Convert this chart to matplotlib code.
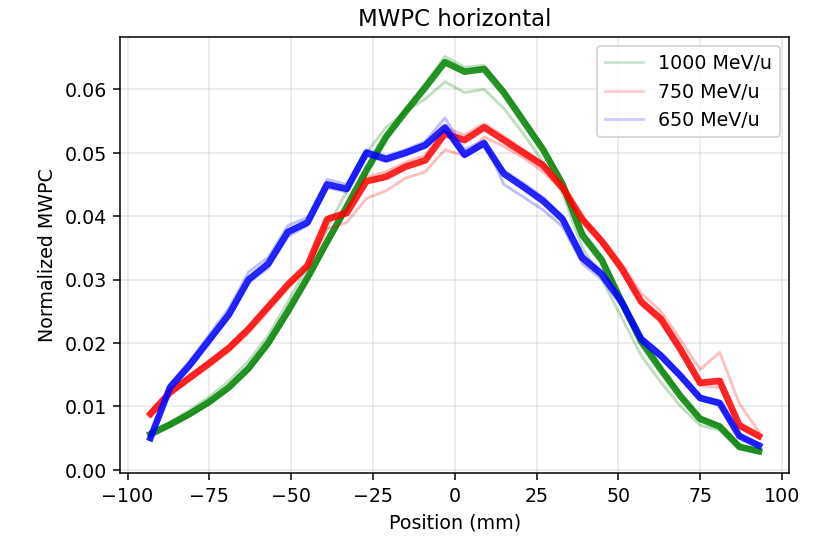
import numpy as np
import matplotlib.pyplot as plt

# Posições dos fios da MWPC (mm)
position = np.arange(-93, 94, 6)

# ---------- Perfis normalizados ----------
# 1000 MeV/u
green_core = [0.0056, 0.0071, 0.0088, 0.0107, 0.0130, 0.0160, 0.0200, 0.0250,
              0.0303, 0.0360, 0.0415, 0.0472, 0.0525, 0.0565, 0.0603, 0.0643,
              0.0628, 0.0632, 0.0595, 0.0550, 0.0505, 0.0450, 0.0370, 0.0330,
              0.0265, 0.0202, 0.0158, 0.0116, 0.0080, 0.0068, 0.0036, 0.0029]
green_low = [0.0060, 0.0075, 0.0094, 0.0115, 0.0140, 0.0172, 0.0212, 0.0265,
             0.0320, 0.0380, 0.0440, 0.0500, 0.0540, 0.0565, 0.0585, 0.0612,
             0.0595, 0.0600, 0.0570, 0.0530, 0.0485, 0.0435, 0.0350, 0.0300,
             0.0240, 0.0180, 0.0138, 0.0100, 0.0070, 0.0062, 0.0033, 0.0026]
green_alt = [0.0054, 0.0069, 0.0085, 0.0104, 0.0127, 0.0156, 0.0195, 0.0244,
             0.0297, 0.0354, 0.0410, 0.0468, 0.0522, 0.0568, 0.0610, 0.0652,
             0.0635, 0.0638, 0.0600, 0.0556, 0.0510, 0.0455, 0.0378, 0.0336,
             0.0270, 0.0208, 0.0162, 0.0120, 0.0084, 0.0071, 0.0038, 0.0031]

# 750 MeV/u
red_core = [0.0088, 0.0122, 0.0145, 0.0168, 0.0192, 0.0222, 0.0257, 0.0292,
            0.0322, 0.0395, 0.0405, 0.0455, 0.0462, 0.0478, 0.0488, 0.0530,
            0.0520, 0.0540, 0.0520, 0.0500, 0.0480, 0.0445, 0.0395, 0.0360,
            0.0318, 0.0265, 0.0238, 0.0190, 0.0137, 0.0140, 0.0070, 0.0053]
red_low = [0.0092, 0.0125, 0.0150, 0.0172, 0.0196, 0.0225, 0.0258, 0.0290,
           0.0318, 0.0380, 0.0390, 0.0428, 0.0440, 0.0460, 0.0470, 0.0505,
           0.0495, 0.0525, 0.0510, 0.0492, 0.0470, 0.0440, 0.0398, 0.0365,
           0.0325, 0.0278, 0.0250, 0.0205, 0.0158, 0.0185, 0.0104, 0.0060]
red_alt = [0.0084, 0.0118, 0.0141, 0.0163, 0.0186, 0.0216, 0.0250, 0.0286,
           0.0318, 0.0398, 0.0410, 0.0462, 0.0470, 0.0485, 0.0496, 0.0540,
           0.0528, 0.0546, 0.0526, 0.0505, 0.0484, 0.0448, 0.0393, 0.0356,
           0.0312, 0.0260, 0.0232, 0.0184, 0.0132, 0.0130, 0.0066, 0.0050]

# 650 MeV/u
blue_core = [0.0050, 0.0130, 0.0165, 0.0205, 0.0245, 0.0300, 0.0325, 0.0375,
             0.0390, 0.0450, 0.0443, 0.0500, 0.0490, 0.0500, 0.0512, 0.0540,
             0.0497, 0.0515, 0.0467, 0.0446, 0.0424, 0.0395, 0.0334, 0.0308,
             0.0265, 0.0206, 0.0180, 0.0148, 0.0113, 0.0105, 0.0053, 0.0038]
blue_high = [0.0055, 0.0135, 0.0172, 0.0213, 0.0255, 0.0312, 0.0335, 0.0385,
             0.0398, 0.0458, 0.0450, 0.0505, 0.0495, 0.0505, 0.0518, 0.0555,
             0.0505, 0.0520, 0.0450, 0.0430, 0.0410, 0.0383, 0.0325, 0.0300,
             0.0258, 0.0200, 0.0175, 0.0144, 0.0110, 0.0102, 0.0051, 0.0036]
blue_alt = [0.0047, 0.0126, 0.0160, 0.0200, 0.0240, 0.0295, 0.0318, 0.0368,
            0.0385, 0.0445, 0.0438, 0.0495, 0.0486, 0.0496, 0.0508, 0.0535,
            0.0493, 0.0512, 0.0472, 0.0452, 0.0430, 0.0400, 0.0340, 0.0314,
            0.0270, 0.0210, 0.0184, 0.0152, 0.0116, 0.0108, 0.0055, 0.0040]

energies = ['1000 MeV/u', '750 MeV/u', '650 MeV/u']
colors = ['green', 'red', 'blue']
profiles = [
    (green_core, [green_low, green_alt]),
    (red_core, [red_low, red_alt]),
    (blue_core, [blue_high, blue_alt]),
]

# ---------- Plotagem ----------
fig = plt.figure(figsize=(823.4 / 137, 539.4 / 137), dpi=137)
ax = fig.add_axes([0.1458, 0.1224, 0.8129, 0.809])

for label, color, (core, extras) in zip(energies, colors, profiles):
    for run in extras:
        ax.plot(position, run, color=color, alpha=0.25, linewidth=1.5)
    ax.plot(position, core, color=color, alpha=0.85, linewidth=3.5)
    # entrada da legenda (linha fraca como no original)
    ax.plot([], [], color=color, alpha=0.2, linewidth=1.5, label=label)

ax.set_title('MWPC horizontal')
ax.set_xlabel('Position (mm)')
ax.set_ylabel('Normalized MWPC')
ax.grid(True, alpha=0.3)
ax.legend(loc='upper right')

fig.savefig('out.png', dpi=137)
